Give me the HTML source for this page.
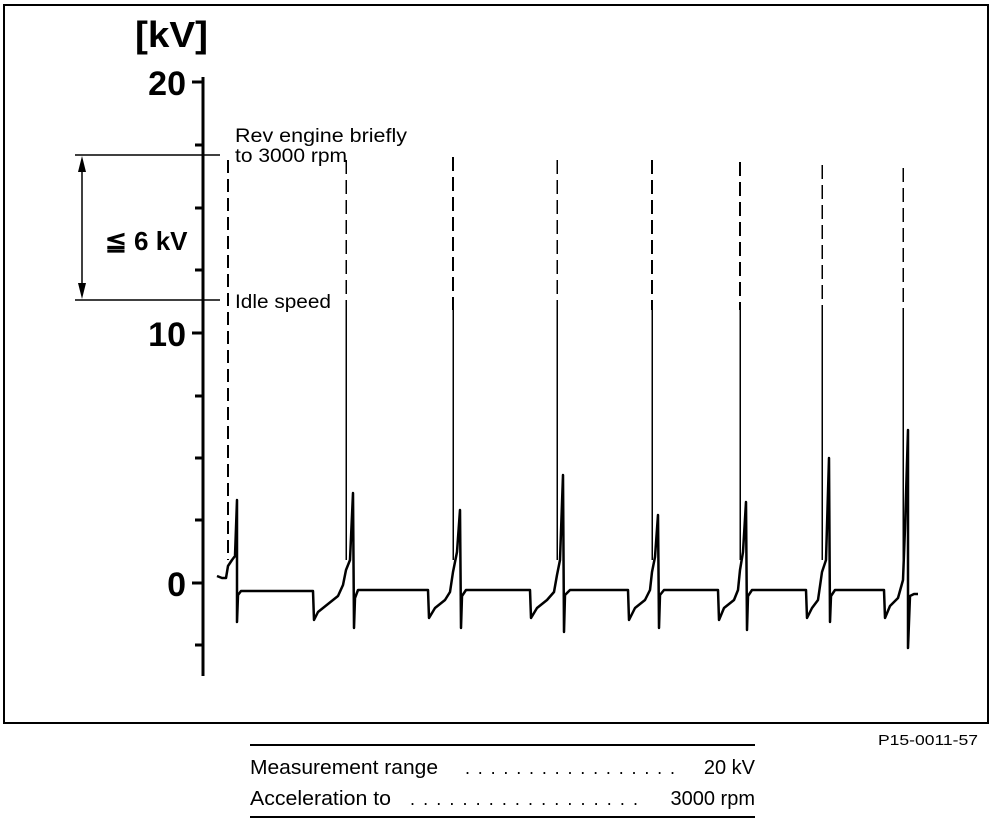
<!DOCTYPE html>
<html><head><meta charset="utf-8"><style>html,body{margin:0;padding:0;background:#fff}svg{display:block}</style></head>
<body>
<svg width="992" height="824" viewBox="0 0 992 824" xmlns="http://www.w3.org/2000/svg" font-family="Liberation Sans, Arial, sans-serif">
<rect x="4" y="5" width="984" height="718" fill="none" stroke="#000" stroke-width="2"/>
<text x="135" y="47" font-size="36" font-weight="bold" textLength="73" lengthAdjust="spacingAndGlyphs">[kV]</text>
<text x="186" y="95" font-size="34" font-weight="bold" text-anchor="end">20</text>
<text x="186" y="346" font-size="34" font-weight="bold" text-anchor="end">10</text>
<text x="186" y="596" font-size="34" font-weight="bold" text-anchor="end">0</text>
<line x1="203" y1="77" x2="203" y2="676" stroke="#000" stroke-width="3"/>
<g stroke="#000" stroke-width="3">
<line x1="192" y1="82" x2="204" y2="82"/><line x1="195" y1="145" x2="203" y2="145"/><line x1="195" y1="208" x2="203" y2="208"/><line x1="195" y1="270" x2="203" y2="270"/><line x1="192" y1="333" x2="204" y2="333"/><line x1="195" y1="396" x2="203" y2="396"/><line x1="195" y1="458" x2="203" y2="458"/><line x1="195" y1="520" x2="203" y2="520"/><line x1="192" y1="583" x2="204" y2="583"/><line x1="195" y1="645" x2="203" y2="645"/>
</g>
<g stroke="#000" stroke-width="1.5">
<line x1="75" y1="155" x2="220" y2="155"/><line x1="75" y1="300" x2="220" y2="300"/>
<line x1="82" y1="162" x2="82" y2="293"/>
</g>
<polygon points="82,156 78,172 86,172" fill="#000"/>
<polygon points="82,299 78,283 86,283" fill="#000"/>
<text x="105" y="250" font-size="26" font-weight="bold">≦ 6 kV</text>
<text x="235" y="142" font-size="19" textLength="172" lengthAdjust="spacingAndGlyphs">Rev engine briefly</text>
<text x="235" y="162" font-size="19" textLength="112" lengthAdjust="spacingAndGlyphs">to 3000 rpm</text>
<text x="235" y="308" font-size="19" textLength="96" lengthAdjust="spacingAndGlyphs">Idle speed</text>
<g stroke="#000" fill="none" shape-rendering="crispEdges">
<line x1="228" y1="160" x2="228" y2="560" stroke-width="2" stroke-dasharray="13,6"/>
<line x1="346" y1="160" x2="346" y2="310" stroke-width="1.5" stroke-dasharray="14,6"/>
<line x1="346" y1="310" x2="346" y2="560" stroke-width="1.5"/>
<line x1="453" y1="157" x2="453" y2="310" stroke-width="2" stroke-dasharray="14,6"/>
<line x1="453" y1="310" x2="453" y2="560" stroke-width="1.5"/>
<line x1="557" y1="160" x2="557" y2="310" stroke-width="1.5" stroke-dasharray="14,6"/>
<line x1="557" y1="310" x2="557" y2="560" stroke-width="1.5"/>
<line x1="652" y1="160" x2="652" y2="310" stroke-width="2" stroke-dasharray="14,6"/>
<line x1="652" y1="310" x2="652" y2="560" stroke-width="1.5"/>
<line x1="740" y1="162" x2="740" y2="310" stroke-width="2" stroke-dasharray="14,6"/>
<line x1="740" y1="310" x2="740" y2="560" stroke-width="1.5"/>
<line x1="822" y1="165" x2="822" y2="310" stroke-width="1.5" stroke-dasharray="14,6"/>
<line x1="822" y1="310" x2="822" y2="560" stroke-width="1.5"/>
<line x1="903" y1="168" x2="903" y2="310" stroke-width="1.5" stroke-dasharray="14,6"/>
<line x1="903" y1="310" x2="903" y2="560" stroke-width="1.5"/>
</g>
<path fill="none" stroke="#000" stroke-width="2.5" stroke-linejoin="round" d="
M217,576 L222,578 L226,578 L228,566 L232,560 L235,556 L237,500 L237,622 L238,595 L241,591 L313,591 L314,620 L318,612 L328,604 L338,596 L343,585 L346,570 L350,560 L353,493 L354,628 L355,598 L358,590 L428,590 L429,618 L435,608 L445,600 L450,592 L453,572 L457,552 L460,510 L461,628 L462,596 L466,590 L530,590 L531,618 L537,608 L547,600 L554,592 L557,575 L560,560 L563,475 L564,632 L565,595 L570,590 L628,590 L629,620 L635,608 L645,600 L650,590 L652,572 L655,557 L658,515 L659,628 L660,595 L664,590 L718,590 L719,620 L724,608 L734,600 L738,590 L740,570 L743,552 L746,502 L747,630 L748,596 L752,590 L806,590 L807,618 L812,608 L818,600 L822,572 L826,560 L829,458 L830,622 L831,596 L835,590 L884,590 L885,618 L890,606 L898,598 L903,580 L905,528 L908,430 L908,648 L910,596 L914,594 L918,594"/>
<text x="878" y="745" font-size="15" textLength="100" lengthAdjust="spacingAndGlyphs">P15-0011-57</text>
<line x1="250" y1="745" x2="755" y2="745" stroke="#000" stroke-width="2"/>
<line x1="250" y1="817" x2="755" y2="817" stroke="#000" stroke-width="2"/>
<text x="250" y="774" font-size="20" textLength="188" lengthAdjust="spacingAndGlyphs">Measurement range</text>
<text x="465" y="774" font-size="18" textLength="210">. . . . . . . . . . . . . . . . .</text>
<text x="755" y="774" font-size="20" text-anchor="end">20 kV</text>
<text x="250" y="805" font-size="20" textLength="141" lengthAdjust="spacingAndGlyphs">Acceleration to</text>
<text x="410" y="805" font-size="18" textLength="228">. . . . . . . . . . . . . . . . . .</text>
<text x="755" y="805" font-size="20" text-anchor="end">3000 rpm</text>
</svg>
</body></html>
